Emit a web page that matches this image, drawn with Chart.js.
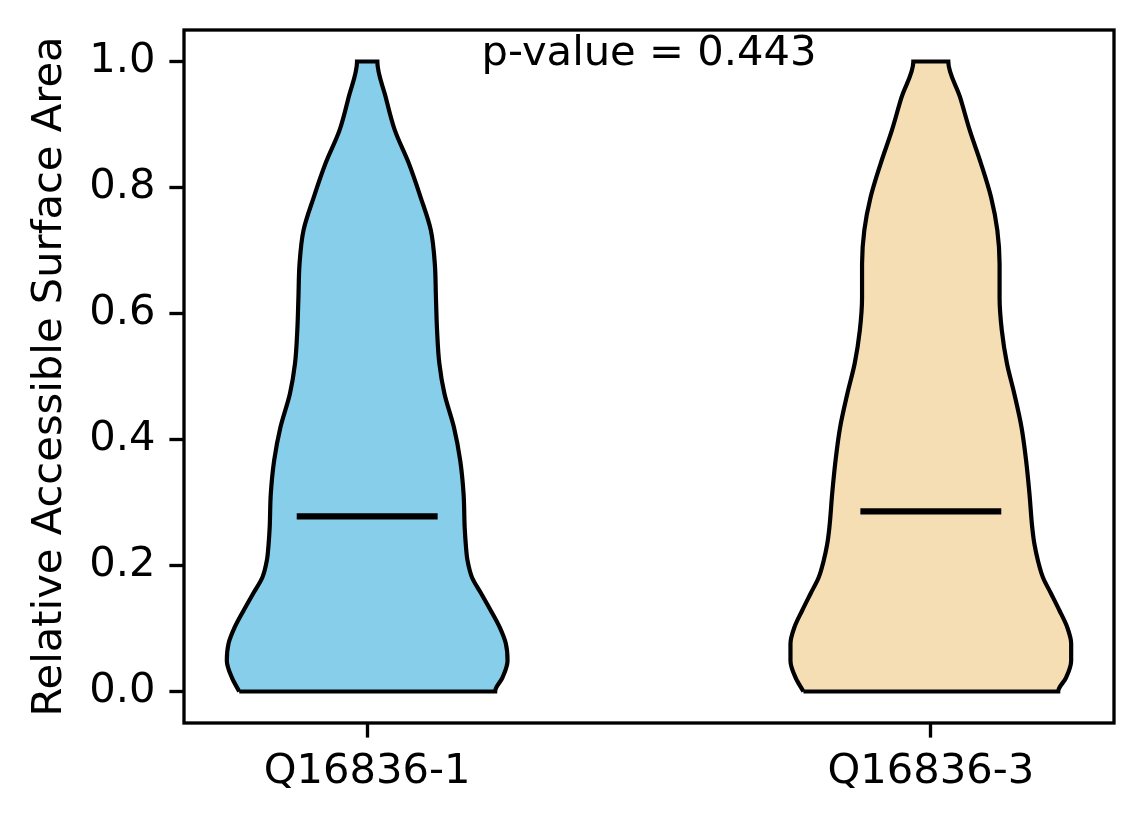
<!DOCTYPE html>
<html>
<head>
<meta charset="utf-8">
<script src="https://cdn.jsdelivr.net/npm/chart.js@4.4.0/dist/chart.umd.min.js"></script>
<style>
  html, body { margin: 0; padding: 0; background: #fff; }
  #wrap { width: 1144px; height: 824px; }
</style>
</head>
<body>
<div id="wrap"><canvas id="violin" width="1144" height="824"></canvas></div>
<script>
// groups on the x axis
const groupNames = ['Q16836-1', 'Q16836-3'];
const groupPositions = [1, 2];
const groupColors = ['#87CEEB', '#F5DEB3'];

// RSA levels where the violin half-widths were read
const levels = [0, 0.022, 0.049, 0.076, 0.102, 0.129, 0.156, 0.181, 0.208, 0.233, 0.26, 0.314, 0.367,
  0.419, 0.473, 0.521, 0.573, 0.625, 0.679, 0.732, 0.784, 0.838, 0.891, 0.943, 1.0];

// half-width of each violin (x units) at each level
const halfWidth1 = [0.227, 0.240, 0.249, 0.246, 0.235, 0.219, 0.202, 0.186, 0.178, 0.175, 0.173, 0.171, 0.165,
  0.154, 0.137, 0.128, 0.124, 0.122, 0.120, 0.113, 0.095, 0.074, 0.049, 0.033, 0.018];
const halfWidth2 = [0.226, 0.240, 0.249, 0.249, 0.242, 0.228, 0.213, 0.199, 0.190, 0.184, 0.180, 0.175, 0.169,
  0.161, 0.148, 0.135, 0.126, 0.122, 0.122, 0.118, 0.107, 0.089, 0.069, 0.052, 0.031];
const halfWidths = [halfWidth1, halfWidth2];

const medians = [0.278, 0.286];
const medianHalf = 0.125;

const yTicks = [0, 0.2, 0.4, 0.6, 0.8, 1.0];
const pValue = 0.443;

const FONT = 'DejaVu Sans';
const FS = 41.67;

// closed outline: up the left side, across the top, down the right side, back along the bottom
function outline(center, hw) {
  const left = levels.map((y, i) => ({ x: center - hw[i], y }));
  const right = levels.map((y, i) => ({ x: center + hw[i], y })).reverse();
  return left.concat(right, [left[0]]);
}

const datasets = [];
groupPositions.forEach((pos, i) => {
  datasets.push({
    label: groupNames[i] + ' median',
    data: [{ x: pos - medianHalf, y: medians[i] }, { x: pos + medianHalf, y: medians[i] }],
    borderColor: '#000',
    borderWidth: 6.25,
    pointRadius: 0,
    fill: false,
    order: 0
  });
  datasets.push({
    label: groupNames[i],
    data: outline(pos, halfWidths[i]),
    borderColor: '#000',
    borderWidth: 4.2,
    borderJoinStyle: 'miter',
    backgroundColor: groupColors[i],
    pointRadius: 0,
    cubicInterpolationMode: 'monotone',
    fill: 'shape',
    order: 1
  });
});

const framePlugin = {
  id: 'frame',
  afterDraw(chart) {
    const { ctx, chartArea: a, scales } = chart;
    ctx.save();
    ctx.strokeStyle = '#000';
    ctx.lineWidth = 3.33;
    ctx.strokeRect(a.left, a.top, a.right - a.left, a.bottom - a.top);
    ctx.fillStyle = '#000';
    ctx.font = FS + 'px "' + FONT + '"';
    ctx.textAlign = 'center';
    ctx.textBaseline = 'alphabetic';
    ctx.fillText('p-value = ' + pValue, scales.x.getPixelForValue(1.5), scales.y.getPixelForValue(0.994));
    ctx.restore();
  }
};

const tickGrid = {
  display: true,
  drawOnChartArea: false,
  drawTicks: true,
  tickLength: 14.6,
  tickWidth: 3.33,
  tickColor: '#000'
};

new Chart(document.getElementById('violin'), {
  type: 'line',
  data: { datasets },
  options: {
    indexAxis: 'y',
    responsive: false,
    devicePixelRatio: 1,
    animation: false,
    layout: { padding: { left: 0, right: 30, top: 30, bottom: 0 } },
    plugins: {
      legend: { display: false },
      tooltip: { enabled: false }
    },
    scales: {
      x: {
        type: 'linear',
        position: 'bottom',
        min: 0.675,
        max: 2.325,
        grid: tickGrid,
        border: { display: false },
        afterBuildTicks: s => { s.ticks = groupPositions.map(v => ({ value: v })); },
        afterFit: s => { s.height = 101; s.paddingLeft = 0; s.paddingRight = 0; },
        ticks: {
          color: '#000',
          font: { family: FONT, size: FS },
          padding: 10,
          maxRotation: 0,
          autoSkip: false,
          callback: v => groupNames[groupPositions.indexOf(v)]
        }
      },
      y: {
        type: 'linear',
        position: 'left',
        reverse: false,
        min: -0.05,
        max: 1.05,
        grid: tickGrid,
        border: { display: false },
        afterBuildTicks: s => { s.ticks = yTicks.map(v => ({ value: v })); },
        afterFit: s => { s.width = 184; s.paddingTop = 0; s.paddingBottom = 0; },
        ticks: {
          color: '#000',
          font: { family: FONT, size: FS },
          padding: 14,
          callback: v => v.toFixed(1)
        },
        title: {
          display: true,
          text: 'Relative Accessible Surface Area',
          color: '#000',
          font: { family: FONT, size: FS },
          padding: { top: 25, bottom: 0 }
        }
      }
    }
  },
  plugins: [framePlugin]
});
</script>
</body>
</html>
